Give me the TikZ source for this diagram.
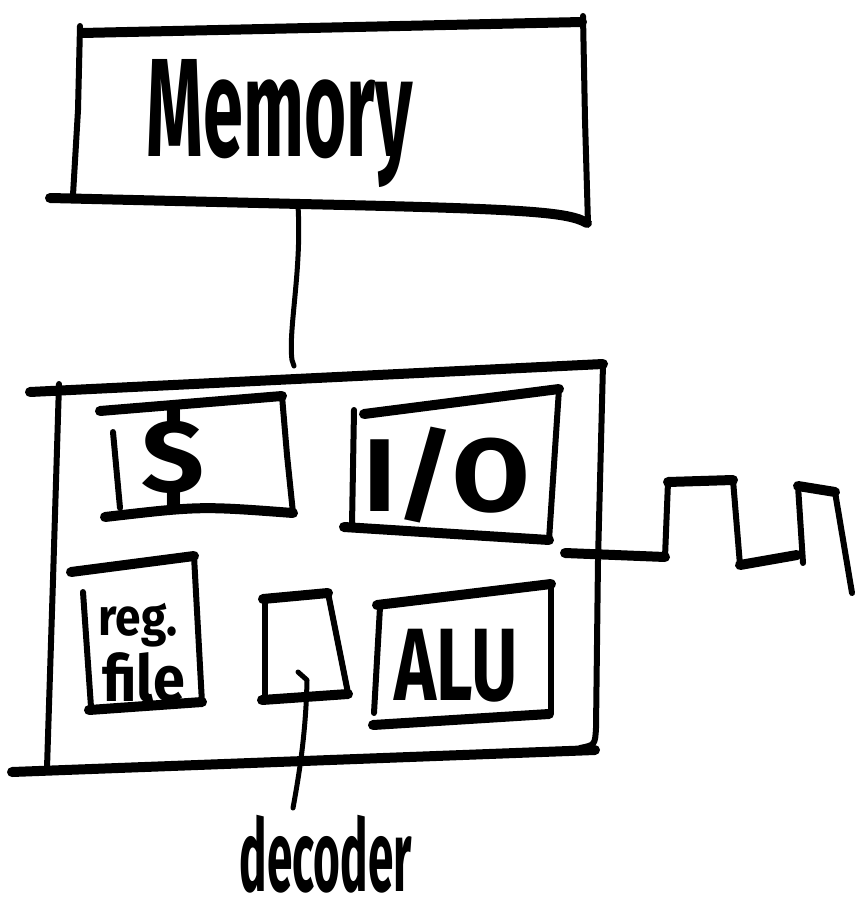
\documentclass[tikz,border=0pt]{standalone}
\usepackage{fontspec}
\setmainfont{Fira Sans}
\usepackage{graphicx}
\begin{document}
\begin{tikzpicture}[x=1pt,y=-1pt,
  hstroke/.style={line width=10pt,line cap=round,line join=round},
  vstroke/.style={line width=6pt,line cap=round,line join=round},
  wire/.style={line width=5pt,line cap=round,line join=round},
  lbl/.style={inner sep=0pt,font=\bfseries}]
\useasboundingbox (0,0) rectangle (857,909);

% ---------- Memory ----------
\draw[vstroke] (80,26) -- (78,110) -- (73,195);
\draw[vstroke] (583,16) -- (585,120) -- (588,224);
\draw[hstroke] (82,33) -- (582,22);
\draw[hstroke] (50,198) -- (300,204) .. controls (530,209) and (568,212) .. (587,223);
\node[lbl] (mem) at (280,124) {\resizebox*{266pt}{128pt}{Memory}};

% ---------- CPU outline ----------
\draw[hstroke] (30,392) -- (603,364);
\draw[vstroke] (59,384) -- (53,580) -- (47,768);
\draw[vstroke] (603,364) -- (598,560) -- (596,728) .. controls (595,745) .. (580,748);
\draw[hstroke] (12,772) -- (595,750);

% memory to CPU connector
\coordinate (m1) at (298,206);
\coordinate (c1) at (292,360);
\draw[wire] (m1) .. controls (302,270) and (288,330) .. (c1) -- (294,366);

% ---------- cache ($) ----------
\draw[hstroke] (100,411) -- (282,396);
\draw[vstroke] (282,396) -- (287,455) -- (293,513);
\draw[hstroke] (105,517) .. controls (200,506) .. (293,513);
\draw[vstroke] (113,432) -- (120,508);
\node[lbl] (cache) at (173,458) {\resizebox*{63pt}{103pt}{\$}};

% ---------- I/O ----------
\draw[hstroke] (364,414) -- (559,389);
\draw[vstroke] (559,389) -- (549,540);
\draw[hstroke] (344,527) -- (549,540);
\draw[vstroke] (354,410) -- (352,525);
\node[lbl] (io) at (447,475) {\resizebox*{166pt}{96pt}{I/O}};

% ---------- register file ----------
\draw[hstroke] (71,572) -- (194,556);
\draw[vstroke] (194,556) -- (202,703);
\draw[hstroke] (89,710) -- (202,702);
\draw[vstroke] (83,592) -- (91,707);
\node[lbl] (reg) at (138,625) {\resizebox*{79pt}{44pt}{reg.}};
\node[lbl] (file) at (144,678) {\resizebox*{83pt}{50pt}{file}};

% ---------- decoder ----------
\draw[hstroke] (263,599) -- (328,593);
\draw[vstroke] (265,600) -- (265,698);
\draw[vstroke] (328,593) -- (348,693);
\draw[hstroke] (262,700) -- (348,694);
\coordinate (dec) at (298,672);
\node[lbl] (declbl) at (326,854) {\resizebox*{172pt}{78pt}{decoder}};
\draw[wire] (dec) -- (307,680) .. controls (306,730) and (300,770) .. (293,808);

% ---------- ALU ----------
\draw[hstroke] (377,605) -- (551,584);
\draw[vstroke] (551,584) -- (551,713);
\draw[hstroke] (373,725) -- (549,714);
\draw[vstroke] (380,607) -- (374,713);
\node[lbl] (alu) at (456,666) {\resizebox*{123pt}{73pt}{ALU}};

% ---------- clock ----------
\coordinate (clk) at (565,553);
\draw[hstroke] (clk) -- (665,557);
\draw[vstroke] (665,557) -- (668,482);
\draw[hstroke] (668,482) -- (733,480);
\draw[vstroke] (733,480) -- (740,565);
\draw[hstroke] (740,565) -- (797,555);
\draw[vstroke] (803,563) -- (798,486);
\draw[hstroke] (798,486) -- (835,492);
\draw[vstroke] (835,492) -- (852,593);
\end{tikzpicture}
\end{document}
